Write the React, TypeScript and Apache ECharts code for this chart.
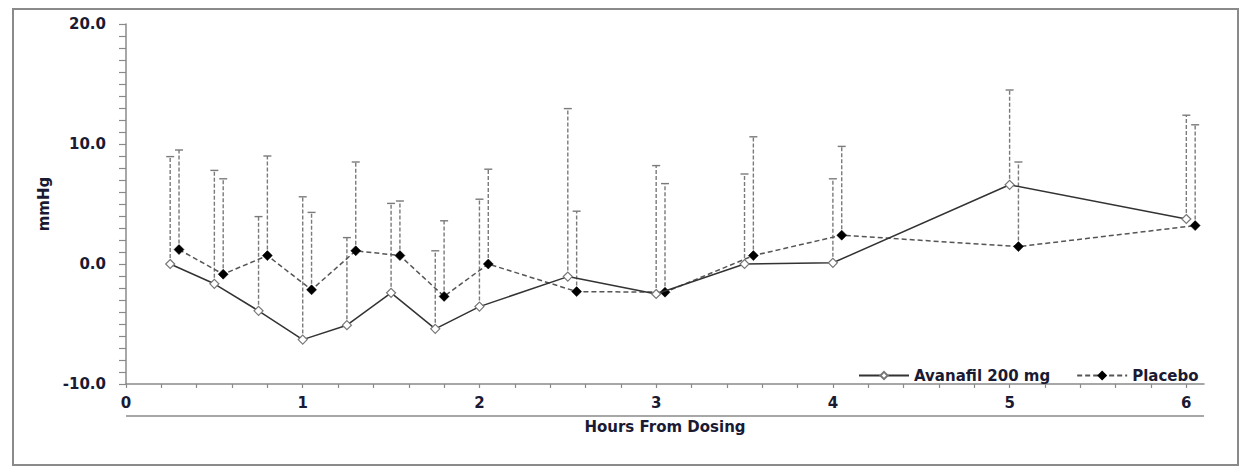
import React, { useEffect, useRef } from "react";
import * as echarts from "echarts";

const avanafilHours = [0.25, 0.5, 0.75, 1, 1.25, 1.5, 1.75, 2, 2.5, 3, 3.5, 4, 5, 6];
const avanafilMean = [0.0, -1.65, -3.9, -6.3, -5.1, -2.4, -5.4, -3.55, -1.05, -2.5, 0.0, 0.1, 6.6, 3.75];
const avanafilUpper = [8.95, 7.8, 3.95, 5.6, 2.2, 5.05, 1.1, 5.4, 12.95, 8.2, 7.5, 7.1, 14.5, 12.4];

const placeboHours = [0.3, 0.55, 0.8, 1.05, 1.3, 1.55, 1.8, 2.05, 2.55, 3.05, 3.55, 4.05, 5.05, 6.05];
const placeboMean = [1.2, -0.85, 0.7, -2.15, 1.1, 0.7, -2.7, 0.0, -2.3, -2.35, 0.7, 2.4, 1.45, 3.2];
const placeboUpper = [9.5, 7.1, 9.0, 4.3, 8.5, 5.25, 3.6, 7.9, 4.4, 6.7, 10.6, 9.8, 8.5, 11.6];

const FONT = "DejaVu Sans";
const TEXT = "#1a1a33";
const GRAY = "#8a8a8a";

export default function App() {
  const ref = useRef<HTMLDivElement>(null);
  useEffect(() => {
    if (!ref.current) return;
    const chart = echarts.init(ref.current, null, { renderer: "svg" });

    const errData = [
      ...avanafilHours.map((h, i) => [h, avanafilMean[i], avanafilUpper[i]]),
      ...placeboHours.map((h, i) => [h, placeboMean[i], placeboUpper[i]]),
    ];

    const option: any = {
      animation: false,
      grid: { left: 126, right: 43, top: 24, bottom: 88 },
      xAxis: {
        type: "value",
        min: 0,
        max: 6.1,
        interval: 0.2,
        name: "Hours From Dosing",
        nameLocation: "middle",
        nameGap: 35,
        nameTextStyle: { fontFamily: FONT, fontWeight: "bold", fontSize: 15, color: TEXT },
        axisLine: { show: true, onZero: false, lineStyle: { color: GRAY, width: 1.5 } },
        axisTick: { show: true, length: 4, lineStyle: { color: GRAY, width: 1.2 } },
        splitLine: { show: false },
        axisLabel: {
          margin: 11,
          fontFamily: FONT,
          fontWeight: "bold",
          fontSize: 15,
          color: TEXT,
          showMaxLabel: false,
          formatter: (v: number) => (Math.abs(v - Math.round(v)) < 1e-6 ? String(Math.round(v)) : ""),
        },
      },
      yAxis: {
        type: "value",
        min: -10,
        max: 20,
        interval: 1,
        name: "mmHg",
        nameLocation: "middle",
        nameGap: 74,
        nameTextStyle: { fontFamily: FONT, fontWeight: "bold", fontSize: 15, color: TEXT },
        axisLine: { show: true, lineStyle: { color: GRAY, width: 1.5 } },
        axisTick: { show: true, length: 7, lineStyle: { color: GRAY, width: 1.2 } },
        splitLine: { show: false },
        axisLabel: {
          margin: 20,
          fontFamily: FONT,
          fontWeight: "bold",
          fontSize: 15,
          color: TEXT,
          formatter: (v: number) => (Math.abs(v % 10) < 1e-6 ? v.toFixed(1) : ""),
        },
      },
      legend: {
        left: 853,
        top: 363,
        itemWidth: 50,
        itemHeight: 9,
        itemGap: 26,
        textStyle: { fontFamily: FONT, fontWeight: "bold", fontSize: 15, color: TEXT },
        data: ["Avanafil 200 mg", "Placebo"],
      },
      graphic: [
        {
          type: "rect",
          shape: { x: 13, y: 9, width: 1225, height: 456 },
          style: { fill: "none", stroke: GRAY, lineWidth: 2 },
          silent: true,
        },
        {
          type: "line",
          shape: { x1: 126, y1: 416, x2: 1204, y2: 416 },
          style: { stroke: GRAY, lineWidth: 1.5 },
          silent: true,
        },
      ],
      series: [
        {
          type: "custom",
          name: "errorbars",
          z: 1,
          data: errData,
          encode: { x: 0, y: [1, 2] },
          renderItem: (params: any, api: any) => {
            const x = api.value(0);
            const lo = api.coord([x, api.value(1)]);
            const hi = api.coord([x, api.value(2)]);
            const style = { stroke: "#7a7a7a", lineWidth: 1.4 };
            return {
              type: "group",
              children: [
                {
                  type: "line",
                  shape: { x1: lo[0], y1: lo[1], x2: hi[0], y2: hi[1] },
                  style: { ...style, lineDash: [4, 2] },
                },
                {
                  type: "line",
                  shape: { x1: hi[0] - 4, y1: hi[1], x2: hi[0] + 4, y2: hi[1] },
                  style,
                },
              ],
            };
          },
        },
        {
          type: "line",
          name: "Avanafil 200 mg",
          z: 3,
          data: avanafilHours.map((h, i) => [h, avanafilMean[i]]),
          symbol: "diamond",
          symbolSize: 9,
          lineStyle: { color: "#333333", width: 1.5, type: "solid" },
          itemStyle: { color: "#ffffff", borderColor: "#777777", borderWidth: 1.2 },
        },
        {
          type: "line",
          name: "Placebo",
          z: 2,
          data: placeboHours.map((h, i) => [h, placeboMean[i]]),
          symbol: "diamond",
          symbolSize: 10,
          lineStyle: { color: "#555555", width: 1.5, type: [5, 3] },
          itemStyle: { color: "#000000", borderColor: "#000000", borderWidth: 0.5 },
        },
      ],
    };
    chart.setOption(option);
    return () => chart.dispose();
  }, []);
  return (
    <div
      ref={ref}
      style={{ position: "fixed", left: 0, top: 0, width: 1247, height: 472, background: "#ffffff" }}
    />
  );
}
